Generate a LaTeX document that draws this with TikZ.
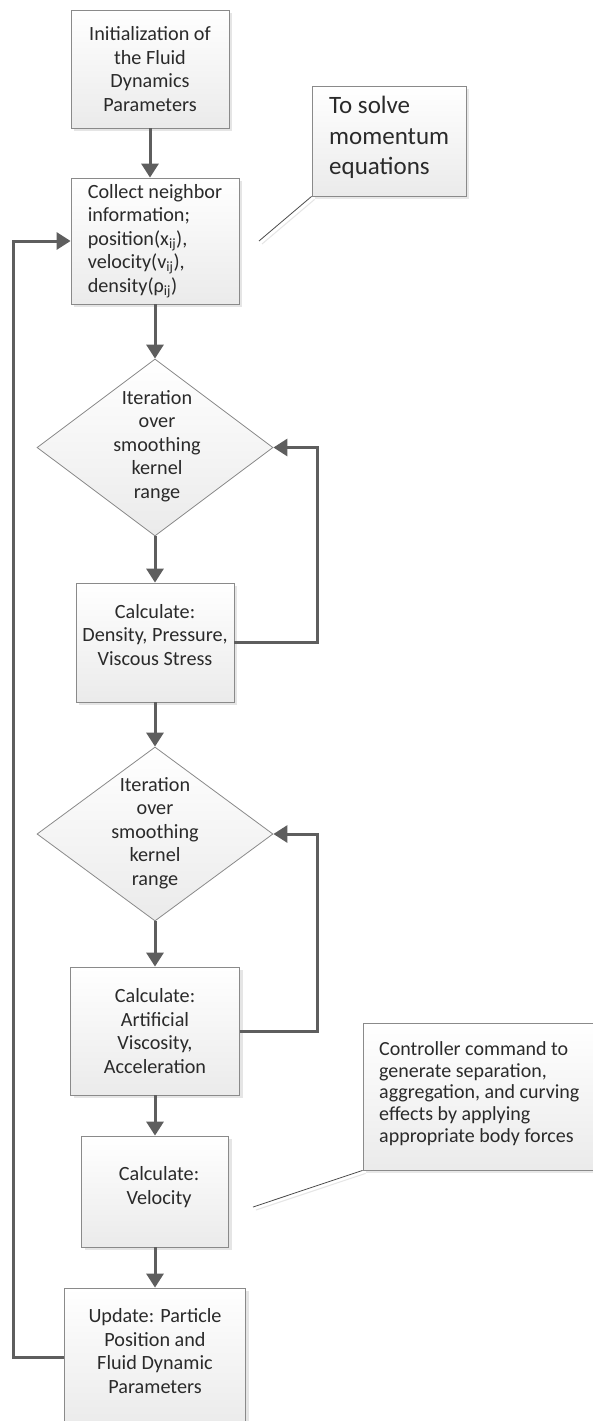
\documentclass[tikz,border=0pt]{standalone}
\usepackage{fontspec}
\setmainfont{Carlito}
\usetikzlibrary{shapes.geometric,arrows.meta,shadows}
\definecolor{linegray}{HTML}{5E5E5E}
\definecolor{bordergray}{HTML}{8A8A8A}
\definecolor{txt}{HTML}{2A2A2A}
\tikzset{
  boxfill/.style={top color=white, bottom color=black!8},
  procbox/.style={rectangle, draw=bordergray, line width=0.8pt, boxfill,
    drop shadow={shadow xshift=3pt, shadow yshift=-3pt, fill=black!10, opacity=1},
    inner sep=0pt, text=txt, align=center, font=\fontsize{20.2}{23.5}\selectfont},
  decbox/.style={diamond, draw=bordergray, line width=0.8pt, boxfill, inner sep=0pt},
  plaintext/.style={text=txt, align=center, inner sep=0pt, font=\fontsize{20.2}{23.5}\selectfont},
  flow/.style={draw=linegray, line width=3pt, -{Triangle[length=14pt,width=17pt]}},
  notebox/.style={rectangle, draw=bordergray, line width=0.8pt, boxfill,
    drop shadow={shadow xshift=3pt, shadow yshift=-3pt, fill=black!9, opacity=1},
    inner sep=0pt},
  notetext/.style={text=txt, align=left, inner sep=0pt, anchor=west},
  noteline/.style={draw=black!70, line width=0.8pt},
  noteshade/.style={draw=black!10, line width=1pt}
}
\begin{document}
\begin{tikzpicture}[x=1pt, y=-1pt]
\useasboundingbox (0,0) rectangle (592,1421);
\fill[white] (0,0) rectangle (592,1421);

% process boxes
\node[procbox, minimum width=158pt, minimum height=118pt] (b1) at (150,69)
  {Initialization of\\the Fluid\\Dynamics\\Parameters};
\node[procbox, minimum width=168pt, minimum height=126pt, align=left] (b2) at (155,241)
  {Collect neighbor\\information;\\position(x\textsubscript{ij}),\\velocity(v\textsubscript{ij}),\\density(ρ\textsubscript{ij})};

\node[decbox, minimum width=236pt, minimum height=177pt] (d1) at (155,447.5) {};
\node[plaintext] (d1t) at (157,446) {Iteration\\over\\smoothing\\kernel\\range};

\node[procbox, minimum width=158pt, minimum height=119pt] (b3) at (155,642.5) {};
\node[plaintext] (b3t) at (155,635) {Calculate:\\Density, Pressure,\\Viscous Stress};

\node[decbox, minimum width=236pt, minimum height=174pt] (d2) at (155,834) {};
\node[plaintext] (d2t) at (155,833) {Iteration\\over\\smoothing\\kernel\\range};

\node[procbox, minimum width=169pt, minimum height=128pt] (b4) at (155,1031)
  {Calculate:\\Artificial\\Viscosity,\\Acceleration};

\node[procbox, minimum width=147pt, minimum height=111pt] (b5) at (155,1191.5) {};
\node[plaintext] (b5t) at (159,1187) {Calculate:\\Velocity};

\node[procbox, minimum width=181pt, minimum height=138pt] (b6) at (155,1357) {};
\node[plaintext] (b6t) at (155,1351) {Update: Particle\\Position and\\Fluid Dynamic\\Parameters};

% notes
\node[notebox, minimum width=154pt, minimum height=110pt] (c1) at (389,141) {};
\node[notetext, font=\fontsize{25}{30.5}\selectfont] (c1t) at (329,137.5)
  {To solve\\momentum\\equations};
\coordinate (c1e) at (259,241);
\draw[noteshade] ([xshift=3pt,yshift=-3pt]c1.south west) -- ([xshift=3pt,yshift=-3pt]c1e);
\draw[noteline] (c1.south west) -- (c1e);

\node[notebox, minimum width=247pt, minimum height=147pt] (c2) at (486.5,1096.5) {};
\node[notetext, font=\fontsize{20}{21.8}\selectfont] (c2t) at (379,1093.5)
  {Controller command to\\generate separation,\\aggregation, and curving\\effects by applying\\appropriate body forces};
\coordinate (c2e) at (253,1207);
\draw[noteshade] ([xshift=3pt,yshift=-3pt]c2.south west) -- ([xshift=3pt,yshift=-3pt]c2e);
\draw[noteline] (c2.south west) -- (c2e);

% connectors
\coordinate (loopx) at (317,0);
\coordinate (backx) at (13,0);
\draw[flow] (b1.south) -- (b1.south |- b2.north);
\draw[flow] (b2.south) -- (d1.north);
\draw[flow] (d1.south) -- (b3.north);
\draw[flow] (b3.east) -- (b3.east -| loopx) |- (d1.east);
\draw[flow] (b3.south) -- (d2.north);
\draw[flow] (d2.south) -- (b4.north);
\draw[flow] (b4.east) -- (b4.east -| loopx) |- (d2.east);
\draw[flow] (b4.south) -- (b5.north);
\draw[flow] (b5.south) -- (b6.north);
\draw[flow] (b6.west) -- (b6.west -| backx) |- (b2.west);
\end{tikzpicture}
\end{document}
